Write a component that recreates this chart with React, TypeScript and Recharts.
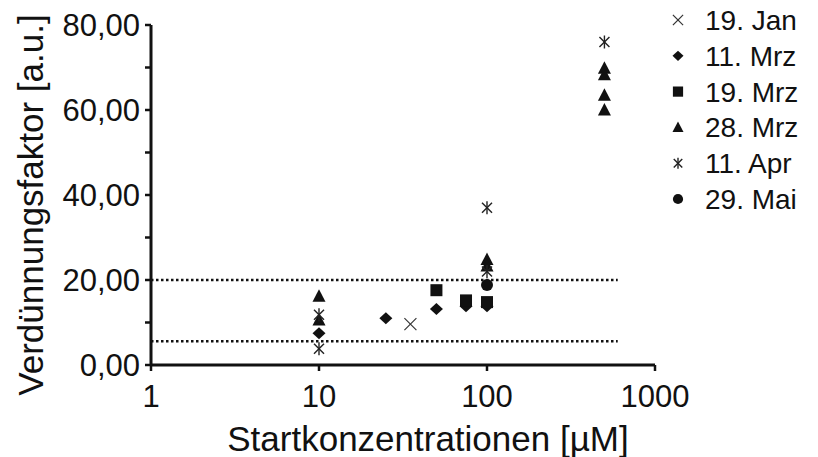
import React from "react"
import { ScatterChart, Scatter, XAxis, YAxis, ReferenceLine } from "recharts"

// Startkonzentration [µM] und Verdünnungsfaktor je Messtag
const jan19Conc = [35]
const jan19Factor = [9.6]

const mrz11Conc = [10, 25, 50, 75, 100]
const mrz11Factor = [7.5, 11, 13.2, 13.8, 13.8]

const mrz19Conc = [50, 75, 100]
const mrz19Factor = [17.6, 15.2, 14.8]

const mrz28Conc = [10, 10, 100, 100, 500, 500, 500, 500]
const mrz28Factor = [16.2, 10.6, 24.8, 23.3, 69.8, 68.3, 63.5, 60]

const apr11Conc = [10, 10, 100, 100, 500]
const apr11Factor = [11.8, 3.8, 37, 22, 76]

const mai29Conc = [100]
const mai29Factor = [18.8]

const xTicks = [1, 10, 100, 1000]
const yTicks = [0, 10, 20, 30, 40, 50, 60, 70, 80]

// Grenzen (gepunktete Linien)
const upperLimit = 20
const lowerLimit = 5.6
const limitXStart = 1
const limitXEnd = 600

const FONT = "'Liberation Sans', Arial, sans-serif"
const INK = "#111"

type Kind = "x" | "diamond" | "square" | "triangle" | "asterisk" | "circle"

const toPoints = (conc: number[], factor: number[]) =>
  conc.map((c, i) => ({ conc: c, factor: factor[i] }))

const series: { name: string; kind: Kind; data: { conc: number; factor: number }[] }[] = [
  { name: "19. Jan", kind: "x", data: toPoints(jan19Conc, jan19Factor) },
  { name: "11. Mrz", kind: "diamond", data: toPoints(mrz11Conc, mrz11Factor) },
  { name: "19. Mrz", kind: "square", data: toPoints(mrz19Conc, mrz19Factor) },
  { name: "28. Mrz", kind: "triangle", data: toPoints(mrz28Conc, mrz28Factor) },
  { name: "11. Apr", kind: "asterisk", data: toPoints(apr11Conc, apr11Factor) },
  { name: "29. Mai", kind: "circle", data: toPoints(mai29Conc, mai29Factor) },
]

function marker(kind: Kind, cx: number, cy: number, s = 1) {
  switch (kind) {
    case "x":
      return (
        <g stroke="#333" strokeWidth={1.2}>
          <line x1={cx - 6 * s} y1={cy - 6 * s} x2={cx + 6 * s} y2={cy + 6 * s} />
          <line x1={cx - 6 * s} y1={cy + 6 * s} x2={cx + 6 * s} y2={cy - 6 * s} />
        </g>
      )
    case "diamond":
      return (
        <polygon
          fill={INK}
          points={`${cx},${cy - 6 * s} ${cx + 6.5 * s},${cy} ${cx},${cy + 6 * s} ${cx - 6.5 * s},${cy}`}
        />
      )
    case "square":
      return <rect fill={INK} x={cx - 6 * s} y={cy - 6 * s} width={12 * s} height={12 * s} />
    case "triangle":
      return (
        <polygon
          fill={INK}
          points={`${cx},${cy - 7 * s} ${cx + 6.5 * s},${cy + 5.5 * s} ${cx - 6.5 * s},${cy + 5.5 * s}`}
        />
      )
    case "asterisk":
      return (
        <g stroke="#222" strokeWidth={1.4}>
          <line x1={cx} y1={cy - 6.5 * s} x2={cx} y2={cy + 6.5 * s} />
          <line x1={cx - 5 * s} y1={cy - 5 * s} x2={cx + 5 * s} y2={cy + 5 * s} />
          <line x1={cx - 5 * s} y1={cy + 5 * s} x2={cx + 5 * s} y2={cy - 5 * s} />
        </g>
      )
    default:
      return <circle fill={INK} cx={cx} cy={cy} r={6 * s} />
  }
}

const fmtY = (v: number) => (v % 20 === 0 ? v.toFixed(2).replace(".", ",") : "")

function LegendBox() {
  const rowH = 35.8
  return (
    <svg width={150} height={220} style={{ display: "block" }}>
      {series.map((s, i) => {
        const cy = 20 + i * rowH
        return (
          <g key={s.name}>
            {marker(s.kind, 18, cy, 0.85)}
            <text x={45} y={cy} dy="0.36em" fontSize={28} fontFamily={FONT} fill={INK}>
              {s.name}
            </text>
          </g>
        )
      })}
    </svg>
  )
}

export default function App() {
  return (
    <div style={{ position: "relative", width: 818, height: 457, background: "#fff" }}>
      <style>{`body{margin:0}`}</style>
      <ScatterChart width={818} height={457} margin={{ top: 25, right: 163, bottom: 0, left: 0 }}>
        <XAxis
          type="number"
          dataKey="conc"
          scale="log"
          domain={[1, 1000]}
          ticks={xTicks}
          allowDataOverflow
          height={92}
          stroke={INK}
          strokeWidth={3}
          tickSize={6}
          tickMargin={14}
          tickLine={{ stroke: INK, strokeWidth: 2.5 }}
          tick={{ fill: INK, fontSize: 31, fontFamily: FONT }}
          tickFormatter={(v: number) => String(v)}
          label={{
            value: "Startkonzentrationen [µM]",
            position: "insideBottom",
            offset: 6,
            dx: 25,
            fill: INK,
            fontSize: 35,
            fontFamily: FONT,
          }}
        />
        <YAxis
          type="number"
          dataKey="factor"
          domain={[0, 80]}
          ticks={yTicks}
          interval={0}
          width={151}
          stroke={INK}
          strokeWidth={3}
          tickSize={6}
          tickMargin={5}
          tickLine={{ stroke: INK, strokeWidth: 2.5 }}
          tick={{ fill: INK, fontSize: 31, fontFamily: FONT }}
          tickFormatter={fmtY}
          label={{
            content: (props: any) => {
              const vb = props.viewBox || { x: 0, y: 25, width: 151, height: 340 }
              const x = vb.x + 30
              const y = vb.y + vb.height / 2 + 10
              return (
                <text
                  x={x}
                  y={y}
                  transform={`rotate(-90, ${x}, ${y})`}
                  textAnchor="middle"
                  dominantBaseline="central"
                  fontSize={35}
                  fontFamily={FONT}
                  fill={INK}
                >
                  Verdünnungsfaktor [a.u.]
                </text>
              )
            },
          }}
        />
        <ReferenceLine
          segment={[{ x: limitXStart, y: upperLimit }, { x: limitXEnd, y: upperLimit }]}
          stroke={INK}
          strokeWidth={2.5}
          strokeDasharray="2.5 2.5"
        />
        <ReferenceLine
          segment={[{ x: limitXStart, y: lowerLimit }, { x: limitXEnd, y: lowerLimit }]}
          stroke={INK}
          strokeWidth={2.5}
          strokeDasharray="2.5 2.5"
        />
        {series.map((s) => (
          <Scatter
            key={s.name}
            name={s.name}
            data={s.data}
            isAnimationActive={false}
            shape={(p: any) => marker(s.kind, p.cx, p.cy)}
          />
        ))}
      </ScatterChart>
      <div style={{ position: "absolute", left: 660, top: 0 }}>
        <LegendBox />
      </div>
    </div>
  )
}
